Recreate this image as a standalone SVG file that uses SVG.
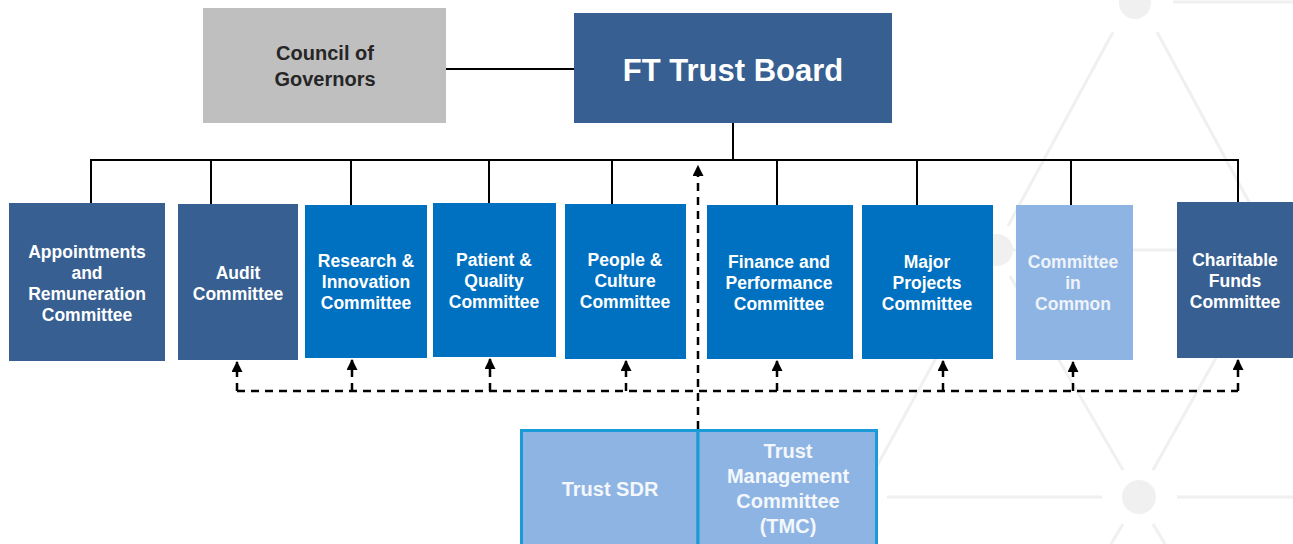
<svg xmlns="http://www.w3.org/2000/svg" width="1293" height="544" viewBox="0 0 1293 544">
<defs>
<style>
.bg line{stroke:#f0f0f0;stroke-width:3;fill:none}
.bg circle{fill:#f0f0f0}
.conn{stroke:#000;stroke-width:2;fill:none}
.dash{stroke:#000;stroke-width:2.5;fill:none;stroke-dasharray:8 6}
.dark{fill:#375f91}
.mid{fill:#0070c0}
.light{fill:#8eb4e3}
.t{font-family:"Liberation Sans",Arial,sans-serif;font-weight:bold;text-anchor:middle}
.w{fill:#ffffff;font-size:17.5px}
.wl{fill:#eef3fa;font-size:17.5px}
.big{fill:#f4f7fb;font-size:20px}
</style>
<marker id="ah" viewBox="0 0 10 10" refX="9" refY="5" markerWidth="11" markerHeight="11" markerUnits="userSpaceOnUse" orient="auto">
<path d="M0,0 L10,5 L0,10 Z" fill="#000" stroke="none"/>
</marker>
</defs>
<rect width="1293" height="544" fill="#ffffff"/>
<g id="background" class="bg">
<line x1="1173" y1="2" x2="1293" y2="2"/>
<line x1="1113" y1="32" x2="1008" y2="226"/>
<line x1="1157" y1="32" x2="1262" y2="226"/>
<line x1="1012" y1="250" x2="1258" y2="250"/>
<line x1="1010" y1="276" x2="1123" y2="470"/>
<line x1="1262" y1="276" x2="1153" y2="470"/>
<line x1="982" y1="274" x2="860" y2="497"/>
<line x1="887" y1="497" x2="1102" y2="497"/>
<line x1="1177" y1="497" x2="1293" y2="497"/>
<line x1="1123" y1="524" x2="1111" y2="544"/>
<line x1="1153" y1="524" x2="1165" y2="544"/>
<circle cx="1135" cy="3" r="16"/>
<circle cx="997" cy="250" r="16"/>
<circle cx="1275" cy="250" r="16"/>
<circle cx="1139" cy="497" r="17"/>
</g>
<g id="connectors">
<line class="conn" x1="446" y1="69" x2="574" y2="69"/>
<line class="conn" x1="733" y1="123" x2="733" y2="160"/>
<line class="conn" x1="90" y1="160" x2="1239" y2="160"/>
<line class="conn" x1="91" y1="160" x2="91" y2="203"/>
<line class="conn" x1="211" y1="160" x2="211" y2="204"/>
<line class="conn" x1="351" y1="160" x2="351" y2="205"/>
<line class="conn" x1="489" y1="160" x2="489" y2="203"/>
<line class="conn" x1="612" y1="160" x2="612" y2="204"/>
<line class="conn" x1="777" y1="160" x2="777" y2="205"/>
<line class="conn" x1="917" y1="160" x2="917" y2="205"/>
<line class="conn" x1="1071" y1="160" x2="1071" y2="205"/>
<line class="conn" x1="1238" y1="160" x2="1238" y2="202"/>
<line class="dash" x1="237" y1="391" x2="1238" y2="391"/>
<line class="dash" x1="698" y1="429" x2="698" y2="166" marker-end="url(#ah)"/>
<line class="dash" x1="237" y1="391" x2="237" y2="362" marker-end="url(#ah)"/>
<line class="dash" x1="352" y1="391" x2="352" y2="360" marker-end="url(#ah)"/>
<line class="dash" x1="490" y1="391" x2="490" y2="359" marker-end="url(#ah)"/>
<line class="dash" x1="626" y1="391" x2="626" y2="361" marker-end="url(#ah)"/>
<line class="dash" x1="777" y1="391" x2="777" y2="361" marker-end="url(#ah)"/>
<line class="dash" x1="943" y1="391" x2="943" y2="361" marker-end="url(#ah)"/>
<line class="dash" x1="1073" y1="391" x2="1073" y2="362" marker-end="url(#ah)"/>
<line class="dash" x1="1238" y1="391" x2="1238" y2="360" marker-end="url(#ah)"/>
</g>
<g id="council">
<rect x="203" y="8" width="243" height="115" fill="#bfbfbf"/>
<text class="t" x="325" y="60" font-size="20" fill="#262626">Council of</text>
<text class="t" x="325" y="86" font-size="20" fill="#262626">Governors</text>
</g>
<g id="board">
<rect x="574" y="13" width="318" height="110" class="dark"/>
<text class="t" x="733" y="81" font-size="31" fill="#ffffff">FT Trust Board</text>
</g>
<g id="appointments">
<rect x="9" y="203" width="156" height="158" class="dark"/>
<text class="t w" x="87" y="258">Appointments<tspan x="87" dy="21">and</tspan><tspan x="87" dy="21">Remuneration</tspan><tspan x="87" dy="21">Committee</tspan></text>
</g>
<g id="audit">
<rect x="178" y="204" width="120" height="156" class="dark"/>
<text class="t w" x="238" y="279">Audit<tspan x="238" dy="21">Committee</tspan></text>
</g>
<g id="research">
<rect x="305" y="205" width="122" height="153" class="mid"/>
<text class="t w" x="366" y="267">Research &amp;<tspan x="366" dy="21">Innovation</tspan><tspan x="366" dy="21">Committee</tspan></text>
</g>
<g id="patient">
<rect x="433" y="203" width="123" height="154" class="mid"/>
<text class="t w" x="494" y="266">Patient &amp;<tspan x="494" dy="21">Quality</tspan><tspan x="494" dy="21">Committee</tspan></text>
</g>
<g id="people">
<rect x="565" y="204" width="121" height="155" class="mid"/>
<text class="t w" x="625" y="266">People &amp;<tspan x="625" dy="21">Culture</tspan><tspan x="625" dy="21">Committee</tspan></text>
</g>
<g id="finance">
<rect x="707" y="205" width="146" height="154" class="mid"/>
<text class="t w" x="779" y="268">Finance and<tspan x="779" dy="21">Performance</tspan><tspan x="779" dy="21">Committee</tspan></text>
</g>
<g id="major">
<rect x="862" y="205" width="131" height="154" class="mid"/>
<text class="t w" x="927" y="268">Major<tspan x="927" dy="21">Projects</tspan><tspan x="927" dy="21">Committee</tspan></text>
</g>
<g id="cic">
<rect x="1016" y="205" width="117" height="155" class="light"/>
<text class="t wl" x="1073" y="268">Committee<tspan x="1073" dy="21">in</tspan><tspan x="1073" dy="21">Common</tspan></text>
</g>
<g id="charitable">
<rect x="1177" y="202" width="120" height="156" class="dark"/>
<text class="t w" x="1235" y="266">Charitable<tspan x="1235" dy="21">Funds</tspan><tspan x="1235" dy="21">Committee</tspan></text>
</g>
<g id="trust-sdr">
<rect x="521.5" y="430.5" width="176.5" height="120" class="light" stroke="#1a9ad6" stroke-width="3"/>
<text class="t big" x="610" y="496">Trust SDR</text>
</g>
<g id="tmc">
<rect x="698" y="430.5" width="178.5" height="120" class="light" stroke="#1a9ad6" stroke-width="3"/>
<text class="t big" x="788" y="458">Trust<tspan x="788" dy="25">Management</tspan><tspan x="788" dy="25">Committee</tspan><tspan x="788" dy="25">(TMC)</tspan></text>
</g>
</svg>
